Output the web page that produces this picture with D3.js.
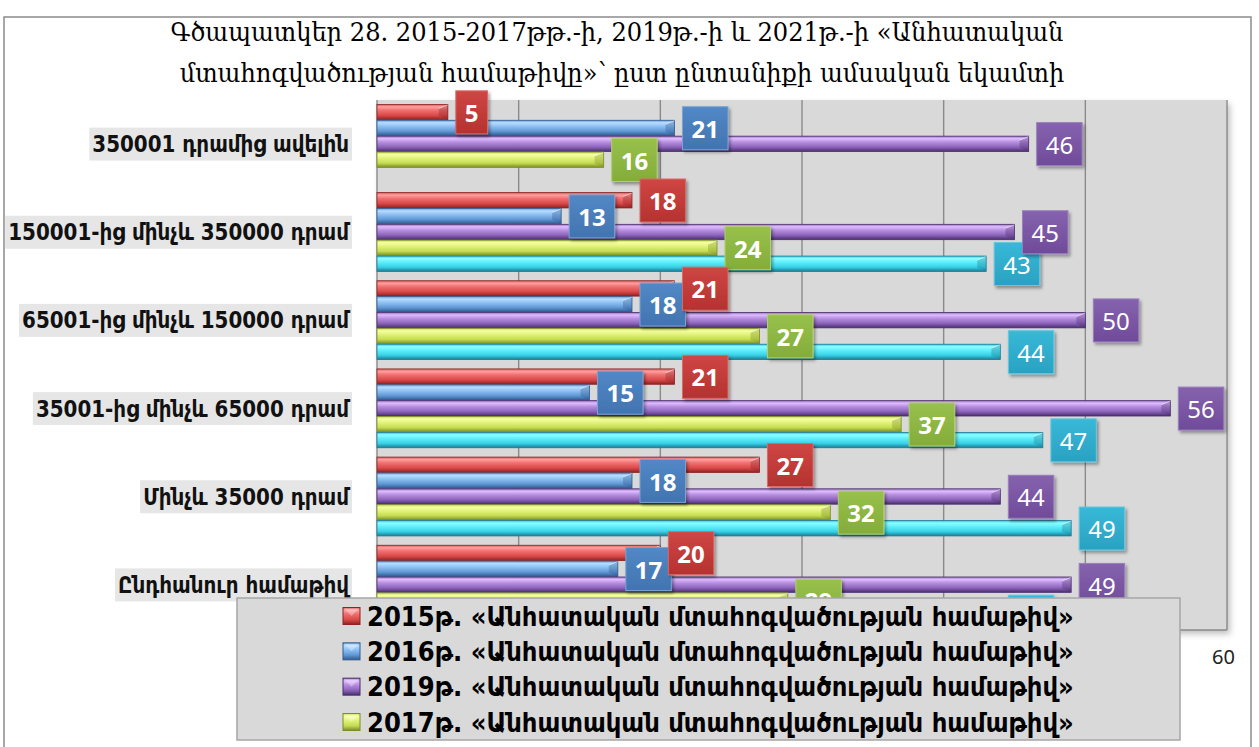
<!DOCTYPE html>
<html><head><meta charset="utf-8">
<script src="https://cdn.jsdelivr.net/npm/d3@7"></script>
<style>body{margin:0;background:#fff;} svg{display:block;}</style>
</head><body>
<svg id="chart" width="1259" height="747"></svg>
<script>
// ---------- DATA ----------
const categories = ["350001 դրամից ավելին", "150001-ից մինչև 350000 դրամ", "65001-ից մինչև 150000 դրամ", "35001-ից մինչև 65000 դրամ", "Մինչև 35000 դրամ", "Ընդհանուր համաթիվ"];
const seriesKeys = ["y2015", "y2016", "y2019", "y2017", "y2021"];
const seriesNames = [
  "2015թ. «Անհատական մտահոգվածության համաթիվ»",
  "2016թ. «Անհատական մտահոգվածության համաթիվ»",
  "2019թ. «Անհատական մտահոգվածության համաթիվ»",
  "2017թ. «Անհատական մտահոգվածության համաթիվ»",
  "2021թ. «Անհատական մտահոգվածության համաթիվ»"
];
const v2015 = [5, 18, 21, 21, 27, 20];
const v2016 = [21, 13, 18, 15, 18, 17];
const v2019 = [46, 45, 50, 56, 44, 49];
const v2017 = [16, 24, 27, 37, 32, 29];
const v2021 = [null, 43, 44, 47, 49, 44];
const tickValues = [0, 10, 20, 30, 40, 50, 60];
const titleLines = ["Գծապատկեր 28. 2015-2017թթ.-ի, 2019թ.-ի և 2021թ.-ի «Անհատական", "մտահոգվածության համաթիվը»՝ ըստ ընտանիքի ամսական եկամտի"];
const legendCount = 4; // visible legend entries

const values = {y2015: v2015, y2016: v2016, y2019: v2019, y2017: v2017, y2021: v2021};

// ---------- STYLE ----------
const style = {
  y2015: {stops: ["#d45a5a", "#ffa0a0", "#f07070", "#da4848", "#8c2222"], box: ["#cf4643", "#b53230"], stroke: "#d86a68", bold: true},
  y2016: {stops: ["#6c9ed6", "#b8dcff", "#90c2f4", "#6097d4", "#2f5a8f"], box: ["#5288c6", "#4174b0"], stroke: "#7aa3d3", bold: true},
  y2019: {stops: ["#9470c0", "#e0bcff", "#b890e2", "#8a62b8", "#4a2e6c"], box: ["#8562ae", "#704b9a"], stroke: "#9a7fbe", bold: false},
  y2017: {stops: ["#c4da58", "#f8ffa2", "#e2f47c", "#c6dc52", "#7a8e26"], box: ["#97c14b", "#84ac3a"], stroke: "#b0d070", bold: true},
  y2021: {stops: ["#34c4dc", "#90fcff", "#60f0fc", "#38d0e6", "#1a7c94"], box: ["#38b8d8", "#2aa2c2"], stroke: "#66c8e0", bold: false}
};

const svg = d3.select("#chart");
const defs = svg.append("defs");

const f1 = defs.append("filter").attr("id", "sh").attr("x", "-20%").attr("y", "-20%").attr("width", "150%").attr("height", "160%");
f1.append("feDropShadow").attr("dx", 2).attr("dy", 2.5).attr("stdDeviation", 1.6).attr("flood-color", "#000").attr("flood-opacity", 0.35);
const f2 = defs.append("filter").attr("id", "shp").attr("x", "-5%").attr("y", "-5%").attr("width", "110%").attr("height", "115%");
f2.append("feDropShadow").attr("dx", 3).attr("dy", 4).attr("stdDeviation", 3).attr("flood-color", "#000").attr("flood-opacity", 0.25);

seriesKeys.forEach(k => {
  const g = defs.append("linearGradient").attr("id", "g_" + k).attr("x1", 0).attr("y1", 0).attr("x2", 0).attr("y2", 1);
  const offs = [0, 0.16, 0.38, 0.72, 1];
  style[k].stops.forEach((c, i) => g.append("stop").attr("offset", offs[i]).attr("stop-color", c));
  const b = defs.append("linearGradient").attr("id", "b_" + k).attr("x1", 0).attr("y1", 0).attr("x2", 0).attr("y2", 1);
  b.append("stop").attr("offset", 0).attr("stop-color", style[k].box[0]);
  b.append("stop").attr("offset", 1).attr("stop-color", style[k].box[1]);
});

// outer border
svg.append("rect").attr("x", 4).attr("y", 17).attr("width", 1247).attr("height", 760)
  .attr("fill", "#fff").attr("stroke", "#8c8c8c").attr("stroke-width", 1.5);

function fitFont(textSel, target, base) {
  textSel.attr("font-size", base);
  const w = textSel.node().getComputedTextLength();
  const s = base * target / w;
  textSel.attr("font-size", s);
  return s;
}

// title
const tf = "'DejaVu Serif Condensed','DejaVu Serif',serif";
const t1 = svg.append("text").attr("x", 617).attr("y", 41).attr("text-anchor", "middle")
  .attr("font-family", tf).attr("fill", "#000").text(titleLines[0]);
const ts = fitFont(t1, 893, 24);
svg.append("text").attr("x", 622).attr("y", 82).attr("text-anchor", "middle")
  .attr("font-family", tf).attr("font-size", ts).attr("fill", "#000").text(titleLines[1]);

// scales
const x = d3.scaleLinear().domain([0, 60]).range([377, 1227]);
const y = d3.scaleBand().domain(categories).range([100, 629]).paddingInner(0.1).paddingOuter(0.05);
const ys = d3.scaleBand().domain(seriesKeys).range([0, y.bandwidth()]);

// legend geometry
const lx0 = 237, lx1 = 1180, ly0 = 598, ly1 = 740;

// plot area
svg.append("rect").attr("x", x(0)).attr("y", 100).attr("width", x(60) - x(0)).attr("height", 530)
  .attr("fill", "#d9d9d9").attr("filter", "url(#shp)");
svg.append("g").selectAll("line").data(tickValues).join("line")
  .attr("x1", d => x(d)).attr("x2", d => x(d)).attr("y1", 100).attr("y2", 630)
  .attr("stroke", "#8a8a8a").attr("stroke-width", 1.4);
svg.append("line").attr("x1", x(0)).attr("x2", x(60)).attr("y1", 630).attr("y2", 630)
  .attr("stroke", "#8a8a8a").attr("stroke-width", 1.4);

// category labels
const cf = "'DejaVu Sans Condensed','DejaVu Sans',sans-serif";
const catG = svg.append("g");
const catTexts = catG.selectAll("text").data(categories).join("text")
  .attr("x", 349).attr("y", d => y(d) + y.bandwidth() / 2).attr("dy", "0.36em")
  .attr("text-anchor", "end").attr("font-family", cf).attr("font-weight", "bold").attr("fill", "#111")
  .text(d => d);
catTexts.attr("font-size", 20);
const maxW = d3.max(catTexts.nodes(), n => n.getComputedTextLength());
catTexts.attr("font-size", 20 * 341 / maxW);
catTexts.each(function(d) {
  const w = this.getComputedTextLength();
  const cy = y(d) + y.bandwidth() / 2;
  catG.insert("rect", "text").attr("x", 349 - w - 3).attr("y", cy - 16.5).attr("width", w + 6).attr("height", 33).attr("fill", "#e6e6e6");
});

// bars
const barsG = svg.append("g");
seriesKeys.forEach(k => {
  categories.forEach((c, i) => {
    const v = values[k][i];
    if (v == null) return;
    const y0 = y(c) + ys(k), h = ys.bandwidth() - 0.5, x0 = x(0), x1 = x(v);
    barsG.append("rect").attr("x", x0).attr("y", y0).attr("width", x1 - x0).attr("height", h)
      .attr("fill", `url(#g_${k})`).attr("stroke", style[k].stops[4]).attr("stroke-width", 0.8);
    barsG.append("polygon")
      .attr("points", [[x1 - 9, y0 + 4], [x1, y0 + 0.5], [x1, y0 + h - 0.5], [x1 - 9, y0 + h - 4]].map(p => p.join(",")).join(" "))
      .attr("fill", style[k].stops[4]).attr("opacity", 0.35);
    barsG.append("line").attr("x1", x1 - 9).attr("x2", x1).attr("y1", y0 + 4).attr("y2", y0 + 0.5)
      .attr("stroke", "#fff").attr("stroke-opacity", 0.5).attr("stroke-width", 1);
  });
});

// data labels (draw order: 2021, 2017, 2019, 2016, 2015)
const labelOrder = ["y2021", "y2017", "y2019", "y2016", "y2015"];
const labG = svg.append("g");
labelOrder.forEach(k => {
  categories.forEach((c, i) => {
    const v = values[k][i];
    if (v == null) return;
    const cy = y(c) + ys(k) + ys.bandwidth() / 2;
    const g = labG.append("g");
    const t = g.append("text").attr("text-anchor", "middle").attr("dy", "0.36em")
      .attr("font-family", "'Noto Sans','Open Sans',sans-serif")
      .attr("font-weight", style[k].bold ? "bold" : "normal")
      .attr("font-size", 24).attr("fill", "#fff").text(v);
    const w = t.node().getComputedTextLength() + 18;
    const bx = x(v) + 8;
    g.insert("rect", "text").attr("x", bx).attr("y", cy - 21.5).attr("width", w).attr("height", 43)
      .attr("fill", `url(#b_${k})`).attr("stroke", style[k].stroke).attr("stroke-width", 1)
      .attr("filter", "url(#sh)");
    t.attr("x", bx + w / 2).attr("y", cy + 1);
    // text fully hidden under the legend box is not shown
    if (cy - 8 > ly0) t.remove();
  });
});

// axis tick labels (only those not covered by the legend are visible)
const axisG = svg.append("g").attr("transform", "translate(0,650)")
  .call(d3.axisBottom(x).tickValues(tickValues.filter(d => x(d) > lx1 + 15)).tickSize(0).tickPadding(0));
axisG.select(".domain").remove();
axisG.selectAll("text").attr("font-family", "'Noto Sans',sans-serif").attr("font-size", 20).attr("fill", "#222")
  .attr("dy", "0.71em").attr("dx", -4);

// legend
svg.append("rect").attr("x", lx0).attr("y", ly0).attr("width", lx1 - lx0).attr("height", ly1 - ly0)
  .attr("fill", "#d9d9d9").attr("stroke", "#a6a6a6").attr("stroke-width", 1.5);
const legKeys = seriesKeys.slice(0, legendCount);
const legNames = seriesNames.slice(0, legendCount);
const rowY = d3.scalePoint().domain(legKeys).range([616, 722]);
const legG = svg.append("g");
const legTexts = legG.selectAll("text").data(legKeys).join("text")
  .attr("y", d => rowY(d)).attr("dy", "0.36em")
  .attr("font-family", cf).attr("font-weight", "bold").attr("fill", "#000")
  .text((d, i) => legNames[i]);
legTexts.attr("font-size", 20);
const lw = d3.max(legTexts.nodes(), n => n.getComputedTextLength());
legTexts.attr("font-size", 20 * 707 / lw);
const entryW = 17 + 7 + 707;
const ex = (lx0 + lx1) / 2 - entryW / 2;
legTexts.attr("x", ex + 24);
legKeys.forEach(k => {
  const cy = rowY(k);
  legG.append("rect").attr("x", ex).attr("y", cy - 8.5).attr("width", 17).attr("height", 17)
    .attr("fill", `url(#g_${k})`).attr("stroke", style[k].stops[4]).attr("stroke-width", 1);
  legG.append("polygon").attr("points", `${ex+1},${cy-7.5} ${ex+16},${cy-7.5} ${ex+8.5},${cy}`)
    .attr("fill", "#fff").attr("opacity", 0.3);
});
</script>
</body></html>
